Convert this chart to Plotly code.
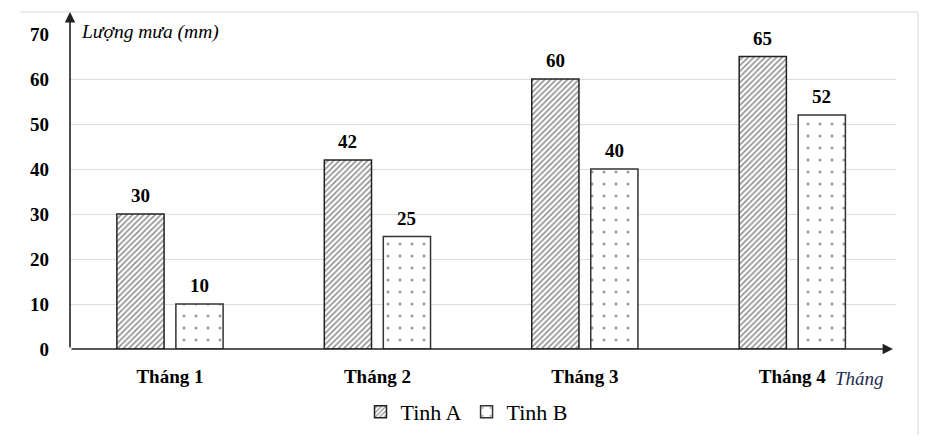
import plotly.graph_objects as go

# %% Data
months = ["Tháng 1", "Tháng 2", "Tháng 3", "Tháng 4"]
tinh_a = [30, 42, 60, 65]
tinh_b = [10, 25, 40, 52]
y_ticks = [0, 10, 20, 30, 40, 50, 60, 70]

SERIF = "Liberation Serif"

# plot area in pixels: x 70..896, y 34..349 (page has 8px body margin)
def px_x(p):
    return (p - 70) / 826

def px_y(p):
    return (349 - p) / 315

fig = go.Figure()
fig.add_trace(go.Bar(
    name="Tinh A", x=months, y=tinh_a,
    marker=dict(color="white", line=dict(color="#222", width=1.5),
                pattern=dict(shape="/", fgcolor="#222", bgcolor="white",
                             size=4, solidity=0.4)),
))
fig.add_trace(go.Bar(
    name="Tinh B", x=months, y=tinh_b,
    marker=dict(color="white", line=dict(color="#333", width=1.5),
                pattern=dict(shape=".", fgcolor="#333", bgcolor="white",
                             size=12, solidity=0.05)),
))

# value labels above bars
annotations = []
for shift, vals in [(-29.5, tinh_a), (29.5, tinh_b)]:
    for m, v in zip(months, vals):
        annotations.append(dict(
            x=m, y=v, text=f"<b>{v}</b>", showarrow=False,
            xshift=shift, yshift=6, yanchor="bottom",
            font=dict(family=SERIF, size=19, color="black")))

# axis arrows
annotations.append(dict(
    xref="x domain", yref="y domain", axref="x domain", ayref="y domain",
    x=0, y=px_y(12), ax=0, ay=0, text="", showarrow=True,
    arrowhead=2, arrowsize=1.3, arrowwidth=1.6, arrowcolor="#222"))
annotations.append(dict(
    xref="x domain", yref="y domain", axref="x domain", ayref="y domain",
    x=px_x(893), y=0, ax=0, ay=0, text="", showarrow=True,
    arrowhead=2, arrowsize=1.3, arrowwidth=1.6, arrowcolor="#222"))

# axis titles
annotations.append(dict(
    xref="paper", yref="paper", x=px_x(79), y=px_y(32),
    xanchor="left", yanchor="middle", showarrow=False,
    text="<i>Lượng mưa (mm)</i>",
    font=dict(family=SERIF, size=19.5, color="black")))
annotations.append(dict(
    xref="paper", yref="paper", x=px_x(833), y=px_y(378),
    xanchor="left", yanchor="middle", showarrow=False,
    text="<i>Tháng</i>",
    font=dict(family=SERIF, size=19, color="#1f2d4d")))

fig.update_layout(
    width=936, height=427,
    margin=dict(l=62, r=48, t=26, b=86, autoexpand=False),
    plot_bgcolor="white", paper_bgcolor="white",
    barmode="group", bargap=0.431, bargroupgap=0.2,
    annotations=annotations,
    legend=dict(orientation="h", x=px_x(467), y=px_y(412),
                xanchor="center", yanchor="middle",
                font=dict(family=SERIF, size=22, color="black"),
                itemwidth=30, tracegroupgap=0),
    shapes=[
        dict(type="line", xref="paper", yref="paper",
             x0=px_x(20), x1=px_x(918), y0=px_y(12), y1=px_y(12),
             line=dict(color="#e6e6e6", width=1.5)),
        dict(type="line", xref="paper", yref="paper",
             x0=px_x(918), x1=px_x(918), y0=px_y(12), y1=px_y(443),
             line=dict(color="#e6e6e6", width=1.5)),
    ],
)
fig.update_xaxes(
    range=[-0.482, 3.5], showgrid=False, showline=False, zeroline=False,
    ticks="", ticklabelstandoff=14, automargin=False,
    tickfont=dict(family=SERIF, size=19, color="black", weight="bold"),
)
fig.update_yaxes(
    range=[0, 70], tickvals=y_ticks, showgrid=True, gridcolor="#dcdcdc",
    gridwidth=1, zeroline=False, showline=False, ticks="",
    ticklabelstandoff=20, automargin=False,
    tickfont=dict(family=SERIF, size=19, color="black", weight="bold"),
)

fig.write_html("out.html")
